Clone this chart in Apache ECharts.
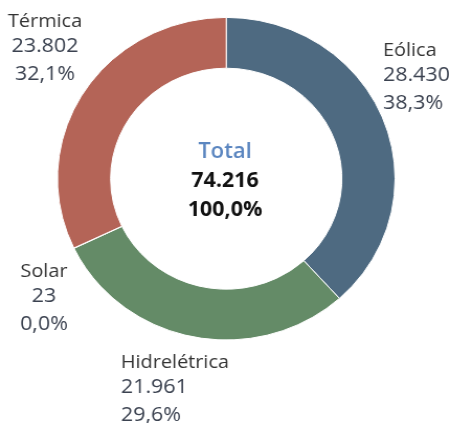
<!DOCTYPE html>
<html>
<head>
<meta charset="utf-8">
<script src="https://cdn.jsdelivr.net/npm/echarts@6/dist/echarts.min.js"></script>
<style>
html,body{margin:0;padding:0;background:#fff;overflow:hidden;}
#wrap{width:456px;height:423px;overflow:hidden;}
#chart{width:436px;height:423px;transform:scaleX(1.0465);transform-origin:0 0;}
</style>
</head>
<body>
<div id="wrap"><div id="chart"></div></div>
<script>
const categories = ['Eólica', 'Hidrelétrica', 'Solar', 'Térmica'];
const values = [28430, 21961, 23, 23802];
const colors = ['#4e6a81', '#648b67', '#e8b64c', '#b46457'];
const totalLabel = 'Total';

const total = values.reduce((a, b) => a + b, 0);
const fmtNum = v => v.toLocaleString('pt-BR');
const fmtPct = v => (v * 100).toFixed(1).replace('.', ',') + '%';

const labelPlace = [
  { x: 366, y: 38, align: 'left' },
  { x: 115.5, y: 350, align: 'left' },
  { x: 42, y: 259, align: 'center' },
  { x: 43, y: 9, align: 'center' }
];

const FONT = '"Open Sans", "Noto Sans", sans-serif';
const chart = echarts.init(document.getElementById('chart'), null, { renderer: 'canvas' });
chart.setOption({
  animation: false,
  series: [{
    type: 'pie',
    center: [216.2, 178.7],
    radius: [110.5, 161.3],
    startAngle: 90,
    clockwise: true,
    avoidLabelOverlap: false,
    minShowLabelAngle: 0,
    data: categories.map((c, i) => ({
      name: c, value: values[i],
      itemStyle: { color: colors[i] }
    })),
    itemStyle: { borderColor: '#fff', borderWidth: 1 },
    label: {
      show: true,
      position: 'outside',
      fontFamily: FONT,
      formatter: p => '{n|' + p.name + '}\n{v|' + fmtNum(p.value) + '}\n{p|' + fmtPct(p.value / total) + '}',
      rich: {
        n: { fontSize: 19, color: '#333', lineHeight: 25, fontFamily: FONT },
        v: { fontSize: 20.5, color: '#3b4250', lineHeight: 24, fontFamily: FONT },
        p: { fontSize: 20.5, color: '#3b4250', lineHeight: 32, fontFamily: FONT }
      }
    },
    labelLine: { show: false },
    labelLayout: params => {
      const l = labelPlace[params.dataIndex];
      return { x: l.x, y: l.y, align: l.align, verticalAlign: 'top', hideOverlap: false };
    },
    emphasis: { disabled: true }
  }],
  graphic: [{
    type: 'text',
    x: 215, y: 181,
    style: {
      text: '{t|' + totalLabel + '}\n{v|' + fmtNum(total) + '}\n{v|' + fmtPct(1) + '}',
      align: 'center',
      verticalAlign: 'middle',
      rich: {
        t: { fontSize: 21, fill: '#5b86c0', fontWeight: 600, lineHeight: 29, fontFamily: FONT },
        v: { fontSize: 20.5, fill: '#111', fontWeight: 'bold', lineHeight: 29, fontFamily: FONT }
      }
    }
  }]
});
</script>
</body>
</html>
